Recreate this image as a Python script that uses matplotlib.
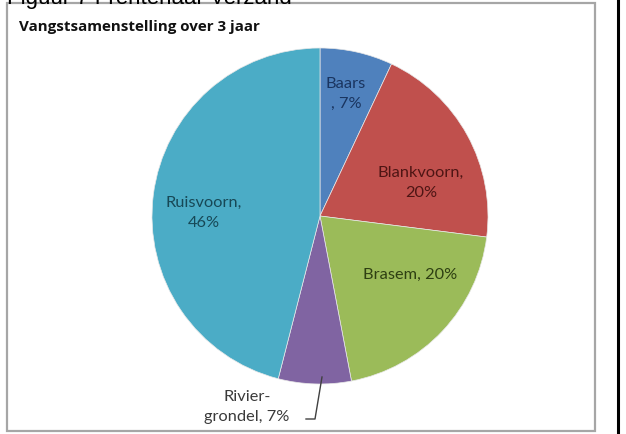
import matplotlib.pyplot as plt
from matplotlib.patches import Rectangle

# Gegevens van de grafiek
soorten = ["Baars", "Blankvoorn", "Brasem", "Rivier-\ngrondel", "Ruisvoorn"]
aandelen = [7, 20, 20, 7, 46]
kleuren = ["#4F81BD", "#C0504D", "#9BBB59", "#8064A2", "#4BACC6"]
tekstkleuren = ["#1A3560", "#4E1514", "#2E3F12", "#3A3A3A", "#174856"]
titel = "Vangstsamenstelling over 3 jaar"

W, H = 626, 435
fig = plt.figure(figsize=(W / 100, H / 100), dpi=100)
ax = fig.add_axes([0, 0, 1, 1])

def py(y):
    # pixel y (van boven) naar data y
    return H - y

wedges, _ = ax.pie(aandelen, colors=kleuren, startangle=90, counterclock=False,
                   center=(320, py(217)), radius=168, frame=True,
                   wedgeprops=dict(linewidth=0.5, edgecolor="#E8E8E8"))
ax.set_xlim(0, W)
ax.set_ylim(0, H)
ax.set_aspect("equal")
ax.axis("off")

# Kader van de grafiek
ax.add_patch(Rectangle((7, py(432)), 588, 428, fill=False, edgecolor="#A6A6A6", lw=1.6))
ax.plot([618, 618], [0, H], color="black", lw=2.2)

# Afgesneden tekst bovenaan (ook in het origineel half buiten beeld)
ax.text(292, py(4), "Figuur 7 Frentenaar Verzand", ha="right", va="baseline",
        fontsize=16, family="Liberation Sans", color="black", clip_on=False)

ax.text(19, py(31), titel, ha="left", va="baseline", fontsize=10.9,
        fontweight="bold", family="Open Sans", color="#111111")

# Labels
posities = [(346, 94), (421, 183), (410, 275), (247, 407), (204, 213)]
for i, (naam, pct) in enumerate(zip(soorten, aandelen)):
    if naam == "Baars":
        label = f"{naam}\n, {pct}%"
    elif naam == "Brasem" or naam.startswith("Rivier"):
        label = f"{naam}, {pct}%"
    else:
        label = f"{naam},\n{pct}%"
    x, y = posities[i]
    ax.text(x, py(y), label, ha="center", va="center", fontsize=11.8,
            family="Lato", color=tekstkleuren[i], linespacing=1.55)

# Verbindingslijn voor Rivier-grondel
ax.plot([306, 315, 322], [py(420), py(420), py(378)], color="#404040", lw=1)

fig.savefig("out.png", dpi=100)
